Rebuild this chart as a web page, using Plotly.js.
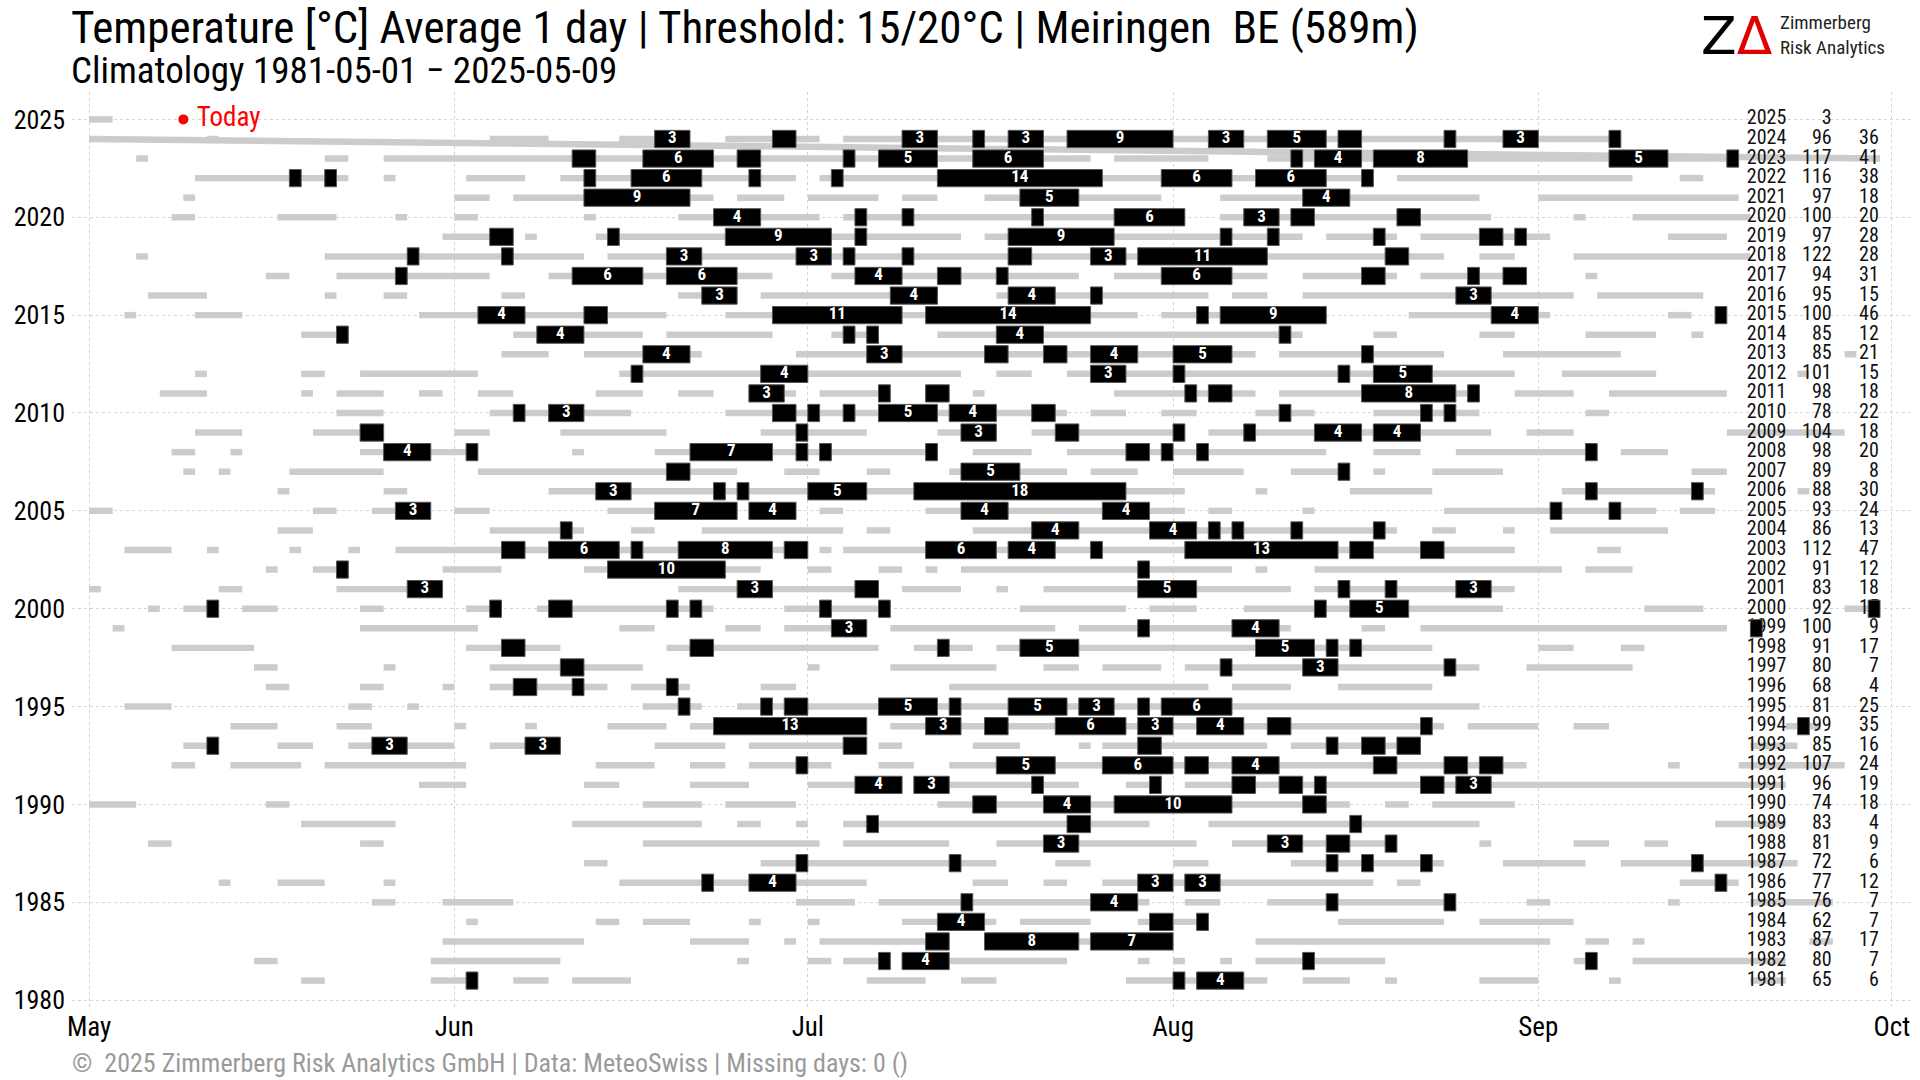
<!DOCTYPE html>
<html><head><meta charset="utf-8">
<script src="https://cdn.plot.ly/plotly-3.0.1.min.js"></script>
<style>html,body{margin:0;padding:0;background:#fff}</style>
</head><body><div id="chart" style="width:1920px;height:1080px"></div>
<script>
// ---- Data: runs are [year, first day counted from 1 May, number of days] ----
const greyRuns = [
[2025,0,2],
[2024,10,1],[2024,34,5],[2024,45,6],[2024,54,8],[2024,64,66],
[2023,4,1],[2023,20,2],[2023,25,60],[2023,87,8],[2023,100,40],
[2022,9,13],[2022,25,1],[2022,32,5],[2022,40,20],[2022,62,47],[2022,111,20],[2022,135,2],
[2021,8,1],[2021,31,3],[2021,36,17],[2021,55,4],[2021,61,6],[2021,69,3],[2021,76,15],[2021,96,22],[2021,123,17],
[2020,7,2],[2020,16,5],[2020,26,1],[2020,31,2],[2020,42,1],[2020,50,12],[2020,64,29],[2020,96,23],[2020,126,1],[2020,131,10],
[2019,30,6],[2019,37,1],[2019,43,31],[2019,76,27],[2019,105,6],[2019,113,11],[2019,134,5],
[2018,4,1],[2018,20,22],[2018,44,71],[2018,118,3],[2018,126,15],
[2017,15,2],[2017,21,13],[2017,39,19],[2017,63,21],[2017,87,13],[2017,103,8],[2017,113,9],[2017,127,1],
[2016,5,5],[2016,20,1],[2016,25,2],[2016,35,2],[2016,50,5],[2016,57,15],[2016,77,18],[2016,97,3],[2016,103,23],[2016,128,9],
[2015,3,1],[2015,9,4],[2015,28,21],[2015,54,35],[2015,91,14],[2015,112,12],[2015,134,2],[2015,138,1],
[2014,18,4],[2014,36,11],[2014,49,9],[2014,63,4],[2014,72,31],[2014,109,2],[2014,118,3],[2014,127,6],[2014,136,1],
[2013,35,4],[2013,42,10],[2013,60,39],[2013,101,14],[2013,120,10],[2013,149,1],
[2012,9,1],[2012,18,2],[2012,23,10],[2012,45,29],[2012,77,3],[2012,83,38],[2012,125,8],[2012,145,1],
[2011,6,4],[2011,18,1],[2011,21,4],[2011,28,2],[2011,33,3],[2011,43,4],[2011,50,3],[2011,56,4],[2011,62,6],[2011,71,2],[2011,75,1],[2011,87,12],[2011,101,17],[2011,121,5],[2011,129,10],
[2010,21,4],[2010,34,12],[2010,54,29],[2010,85,3],[2010,91,3],[2010,99,5],[2010,109,9],[2010,127,2],
[2009,9,4],[2009,19,6],[2009,31,3],[2009,40,9],[2009,57,9],[2009,72,5],[2009,80,13],[2009,95,24],[2009,122,4],[2009,139,10],
[2008,7,2],[2008,12,1],[2008,23,10],[2008,41,1],[2008,48,24],[2008,75,5],[2008,83,22],[2008,109,4],[2008,116,12],[2008,130,4],
[2007,8,1],[2007,11,1],[2007,17,8],[2007,33,22],[2007,59,3],[2007,66,2],[2007,73,10],[2007,85,4],[2007,92,6],[2007,102,5],[2007,109,1],[2007,114,6],[2007,136,3],
[2006,16,1],[2006,25,2],[2006,39,54],[2006,99,1],[2006,107,7],[2006,125,13],[2006,145,1],
[2005,0,2],[2005,19,2],[2005,24,5],[2005,31,3],[2005,44,11],[2005,56,4],[2005,62,2],[2005,71,22],[2005,95,2],[2005,103,1],[2005,115,18],[2005,135,3],
[2004,16,3],[2004,34,8],[2004,46,2],[2004,52,12],[2004,66,2],[2004,75,36],[2004,114,2],[2004,120,1],[2004,124,10],
[2003,3,4],[2003,10,1],[2003,17,1],[2003,22,1],[2003,26,35],[2003,62,1],[2003,64,57],[2003,128,2],
[2002,15,1],[2002,19,3],[2002,30,5],[2002,42,15],[2002,61,2],[2002,67,2],[2002,71,1],[2002,74,23],[2002,99,1],[2002,104,21],[2002,127,4],
[2001,0,1],[2001,11,2],[2001,21,9],[2001,50,17],[2001,69,5],[2001,77,1],[2001,81,21],[2001,104,17],
[2000,5,1],[2000,8,3],[2000,13,3],[2000,23,2],[2000,32,3],[2000,38,15],[2000,59,9],[2000,79,9],[2000,90,4],[2000,98,22],[2000,132,5],[2000,149,3],
[1999,2,1],[1999,23,10],[1999,45,3],[1999,54,3],[1999,59,7],[1999,68,14],[1999,84,18],[1999,108,2],[1999,113,26],[1999,141,1],
[1998,7,7],[1998,32,8],[1998,49,18],[1998,70,5],[1998,77,37],[1998,123,3],[1998,130,2],
[1997,14,2],[1997,25,1],[1997,34,13],[1997,61,1],[1997,68,9],[1997,81,3],[1997,86,5],[1997,93,25],[1997,122,9],
[1996,15,2],[1996,23,2],[1996,30,1],[1996,34,10],[1996,46,5],[1996,57,3],[1996,73,22],[1996,97,5],[1996,106,8],
[1995,3,4],[1995,22,2],[1995,27,1],[1995,47,5],[1995,55,63],
[1994,12,4],[1994,21,3],[1994,31,1],[1994,37,1],[1994,44,5],[1994,51,15],[1994,68,47],[1994,117,6],[1994,126,3],[1994,144,3],
[1993,8,3],[1993,16,3],[1993,22,9],[1993,34,6],[1993,48,6],[1993,56,10],[1993,67,2],[1993,75,4],[1993,84,1],[1993,86,14],[1993,102,11],[1993,141,4],
[1992,7,2],[1992,12,6],[1992,20,12],[1992,43,5],[1992,51,3],[1992,56,7],[1992,67,3],[1992,73,49],[1992,134,1],[1992,140,9],
[1991,28,4],[1991,42,3],[1991,51,5],[1991,61,8],[1991,70,14],[1991,88,3],[1991,93,51],
[1990,0,4],[1990,15,2],[1990,47,5],[1990,54,6],[1990,72,35],[1990,110,2],[1990,114,7],
[1989,18,8],[1989,41,11],[1989,55,2],[1989,60,1],[1989,64,26],[1989,95,23],[1989,138,6],
[1988,5,2],[1988,23,2],[1988,47,15],[1988,64,9],[1988,77,17],[1988,97,14],[1988,118,1],[1988,126,3],[1988,132,2],
[1987,42,2],[1987,57,20],[1987,82,3],[1987,92,3],[1987,102,13],[1987,120,7],[1987,130,15],
[1986,11,1],[1986,16,4],[1986,25,1],[1986,45,21],[1986,75,3],[1986,81,2],[1986,86,23],[1986,111,2],[1986,135,5],
[1985,24,2],[1985,30,6],[1985,60,5],[1985,67,23],[1985,93,3],[1985,100,16],[1985,122,2],[1985,134,1],[1985,141,7],
[1984,32,1],[1984,43,2],[1984,47,4],[1984,56,1],[1984,61,1],[1984,69,8],[1984,79,6],[1984,89,6],[1984,106,9],[1984,118,8],
[1983,30,12],[1983,51,5],[1983,59,1],[1983,62,11],[1983,76,16],[1983,99,25],[1983,127,2],[1983,131,1],[1983,146,2],
[1982,14,2],[1982,29,11],[1982,55,1],[1982,61,2],[1982,64,4],[1982,69,14],[1982,89,1],[1982,92,1],[1982,96,1],[1982,99,11],[1982,126,2],[1982,131,13],
[1981,18,2],[1981,29,4],[1981,36,3],[1981,41,5],[1981,66,5],[1981,74,3],[1981,88,12],[1981,103,4],[1981,110,1],[1981,118,5],[1981,129,1],[1981,141,3]
];
const hotRuns = [
[2024,48,3],[2024,58,2],[2024,69,3],[2024,75,1],[2024,78,3],[2024,83,9],[2024,95,3],[2024,100,5],[2024,106,2],[2024,115,1],[2024,120,3],[2024,129,1],
[2023,41,2],[2023,47,6],[2023,55,2],[2023,64,1],[2023,67,5],[2023,75,6],[2023,102,1],[2023,104,4],[2023,109,8],[2023,129,5],[2023,139,1],
[2022,17,1],[2022,20,1],[2022,42,1],[2022,46,6],[2022,56,1],[2022,63,1],[2022,72,14],[2022,91,6],[2022,99,6],[2022,108,1],
[2021,42,9],[2021,79,5],[2021,103,4],
[2020,53,4],[2020,65,1],[2020,69,1],[2020,80,1],[2020,87,6],[2020,98,3],[2020,102,2],[2020,111,2],
[2019,34,2],[2019,44,1],[2019,54,9],[2019,65,1],[2019,78,9],[2019,96,1],[2019,100,1],[2019,109,1],[2019,118,2],[2019,121,1],
[2018,27,1],[2018,35,1],[2018,49,3],[2018,60,3],[2018,64,1],[2018,69,1],[2018,78,2],[2018,85,3],[2018,89,11],[2018,110,2],
[2017,26,1],[2017,41,6],[2017,49,6],[2017,65,4],[2017,72,2],[2017,77,1],[2017,91,6],[2017,108,2],[2017,117,1],[2017,120,2],
[2016,52,3],[2016,68,4],[2016,78,4],[2016,85,1],[2016,116,3],
[2015,33,4],[2015,42,2],[2015,58,11],[2015,71,14],[2015,94,1],[2015,96,9],[2015,119,4],[2015,138,1],
[2014,21,1],[2014,38,4],[2014,64,1],[2014,66,1],[2014,77,4],[2014,101,1],
[2013,47,4],[2013,66,3],[2013,76,2],[2013,81,2],[2013,85,4],[2013,92,5],[2013,108,1],
[2012,46,1],[2012,57,4],[2012,85,3],[2012,92,1],[2012,106,1],[2012,109,5],
[2011,56,3],[2011,67,1],[2011,71,2],[2011,93,1],[2011,95,2],[2011,108,8],[2011,117,1],
[2010,36,1],[2010,39,3],[2010,58,2],[2010,61,1],[2010,64,1],[2010,67,5],[2010,73,4],[2010,80,2],[2010,101,1],[2010,113,1],[2010,115,1],
[2009,23,2],[2009,60,1],[2009,74,3],[2009,82,2],[2009,92,1],[2009,98,1],[2009,104,4],[2009,109,4],
[2008,25,4],[2008,32,1],[2008,51,7],[2008,60,1],[2008,62,1],[2008,71,1],[2008,88,2],[2008,91,1],[2008,94,1],[2008,127,1],
[2007,49,2],[2007,74,5],[2007,106,1],
[2006,43,3],[2006,53,1],[2006,55,1],[2006,61,5],[2006,70,18],[2006,127,1],[2006,136,1],
[2005,26,3],[2005,48,7],[2005,56,4],[2005,74,4],[2005,86,4],[2005,124,1],[2005,129,1],
[2004,40,1],[2004,80,4],[2004,90,4],[2004,95,1],[2004,97,1],[2004,102,1],[2004,109,1],
[2003,35,2],[2003,39,6],[2003,46,1],[2003,50,8],[2003,59,2],[2003,71,6],[2003,78,4],[2003,85,1],[2003,93,13],[2003,107,2],[2003,113,2],
[2002,21,1],[2002,44,10],[2002,89,1],
[2001,27,3],[2001,55,3],[2001,65,2],[2001,89,5],[2001,106,1],[2001,110,1],[2001,116,3],
[2000,10,1],[2000,34,1],[2000,39,2],[2000,49,1],[2000,51,1],[2000,62,1],[2000,67,1],[2000,104,1],[2000,107,5],[2000,151,1],
[1999,63,3],[1999,89,1],[1999,97,4],[1999,141,1],
[1998,35,2],[1998,51,2],[1998,72,1],[1998,79,5],[1998,99,5],[1998,105,1],[1998,107,1],
[1997,40,2],[1997,96,1],[1997,103,3],[1997,115,1],
[1996,36,2],[1996,41,1],[1996,49,1],
[1995,50,1],[1995,57,1],[1995,59,2],[1995,67,5],[1995,73,1],[1995,78,5],[1995,84,3],[1995,89,1],[1995,91,6],
[1994,53,13],[1994,71,3],[1994,76,2],[1994,82,6],[1994,89,3],[1994,94,4],[1994,100,2],[1994,113,1],[1994,145,1],
[1993,10,1],[1993,24,3],[1993,37,3],[1993,64,2],[1993,89,2],[1993,105,1],[1993,108,2],[1993,111,2],
[1992,60,1],[1992,77,5],[1992,86,6],[1992,93,2],[1992,97,4],[1992,109,2],[1992,115,2],[1992,118,2],
[1991,65,4],[1991,70,3],[1991,80,1],[1991,90,1],[1991,97,2],[1991,101,2],[1991,104,1],[1991,113,2],[1991,116,3],
[1990,75,2],[1990,81,4],[1990,87,10],[1990,103,2],
[1989,66,1],[1989,83,2],[1989,107,1],
[1988,81,3],[1988,100,3],[1988,105,2],[1988,110,1],
[1987,60,1],[1987,73,1],[1987,105,1],[1987,108,1],[1987,113,1],[1987,136,1],
[1986,52,1],[1986,56,4],[1986,89,3],[1986,93,3],[1986,138,1],
[1985,74,1],[1985,85,4],[1985,105,1],[1985,115,1],
[1984,72,4],[1984,90,2],[1984,94,1],
[1983,71,2],[1983,76,8],[1983,85,7],
[1982,67,1],[1982,69,4],[1982,103,1],[1982,127,1],
[1981,32,1],[1981,92,1],[1981,94,4]
];
const tableYears = [2025,2024,2023,2022,2021,2020,2019,2018,2017,2016,2015,2014,2013,2012,2011,2010,2009,2008,2007,2006,2005,2004,2003,2002,2001,2000,1999,1998,1997,1996,1995,1994,1993,1992,1991,1990,1989,1988,1987,1986,1985,1984,1983,1982,1981];
const tableDays15 = [3,96,117,116,97,100,97,122,94,95,100,85,85,101,98,78,104,98,89,88,93,86,112,91,83,92,100,91,80,68,81,99,85,107,96,74,83,81,72,77,76,62,87,80,65];
const tableDays20 = [null,36,41,38,18,20,28,28,31,15,46,12,21,15,18,22,18,20,8,30,24,13,47,12,18,15,9,17,7,4,25,35,16,24,19,18,4,9,6,12,7,7,17,7,6];
const todayDay = 8;          // 2025-05-09
const todayYear = 2025;
const stripeDays = [0, 152]; // stray grey stroke in the original figure
const stripeYears = [2024, 2023];
const monthTickText = ['May','Jun','Jul','Aug','Sep','Oct'];
const monthTickDays = [0,31,61,92,123,153];
const yearTicks = [1980,1985,1990,1995,2000,2005,2010,2015,2020,2025];

// ---- helpers ----
const REF = Date.UTC(2001,4,1);
const DAY = 86400000;
function dayToDate(d){ return new Date(REF + d*DAY).toISOString().slice(0,19).replace('T',' '); }
const FONT = "Roboto Condensed, Liberation Sans Narrow, DejaVu Sans Condensed, Roboto, sans-serif";
const L=72, R=7, T=92, B=72, W=1920, H=1080;
const pw=W-L-R, ph=H-T-B;
const px2x = px => (px-L)/pw;
const py2y = py => (H-B-py)/ph;
const XR = [dayToDate(-1.45), dayToDate(154.8)];
const YR = [1979.6, 2026.4];

const traces = [];
// main subplot: grey runs (bars layer), then stray stroke and table text (scatter layer)
traces.push({type:'bar', orientation:'h', y: greyRuns.map(r=>r[0]), base: greyRuns.map(r=>dayToDate(r[1])),
  x: greyRuns.map(r=>r[2]*DAY), width:0.33, marker:{color:'#cccccc', line:{width:0}}, hoverinfo:'skip'});
traces.push({type:'scatter', mode:'lines', x: stripeDays.map(dayToDate), y: stripeYears,
  line:{color:'#cccccc', width:6.5}, hoverinfo:'skip'});
traces.push({type:'scatter', mode:'text', x: tableYears.map(()=>dayToDate(140.7)), y: tableYears,
  text: tableYears.map(String), textposition:'middle right', textfont:{family:FONT,size:20,color:'#111'}, hoverinfo:'skip'});
traces.push({type:'scatter', mode:'text', x: tableYears.map(()=>dayToDate(147.9)), y: tableYears,
  text: tableDays15.map(v=>v==null?'':String(v)), textposition:'middle left', textfont:{family:FONT,size:20,color:'#111'}, hoverinfo:'skip'});
traces.push({type:'scatter', mode:'text', x: tableYears.map(()=>dayToDate(151.9)), y: tableYears,
  text: tableDays20.map(v=>v==null?'':String(v)), textposition:'middle left', textfont:{family:FONT,size:20,color:'#111'}, hoverinfo:'skip'});

// overlay subplot: hot runs on top
traces.push({type:'bar', orientation:'h', xaxis:'x2', yaxis:'y2', y: hotRuns.map(r=>r[0]), base: hotRuns.map(r=>dayToDate(r[1])),
  x: hotRuns.map(r=>r[2]*DAY), width:0.88, marker:{color:'#000000', line:{width:1,color:'#555555'}}, hoverinfo:'skip'});
const lab = hotRuns.filter(r=>r[2]>=3);
traces.push({type:'scatter', mode:'text', xaxis:'x2', yaxis:'y2', x: lab.map(r=>dayToDate(r[1]+r[2]/2)), y: lab.map(r=>r[0]),
  text: lab.map(r=>String(r[2])), textposition:'middle center', textfont:{family:FONT,size:17,color:'#ffffff',weight:'bold'}, hoverinfo:'skip'});
traces.push({type:'scatter', mode:'markers+text', xaxis:'x2', yaxis:'y2', x:[dayToDate(todayDay)], y:[todayYear], text:['\u00a0Today'],
  textposition:'middle right', marker:{color:'#ff0000', size:10}, textfont:{family:FONT,size:27,color:'#ff0000'}, hoverinfo:'skip'});

const annotations = [
 {text:'Temperature [°C] Average 1 day | Threshold: 15/20°C | Meiringen\u00a0 BE (589m)', xref:'paper', yref:'paper',
  x:px2x(69), y:py2y(27), xanchor:'left', yanchor:'middle', showarrow:false, font:{family:FONT,size:45,color:'#000'}},
 {text:'Climatology 1981-05-01 \u2212 2025-05-09', xref:'paper', yref:'paper',
  x:px2x(69), y:py2y(70), xanchor:'left', yanchor:'middle', showarrow:false, font:{family:FONT,size:37,color:'#000'}},
 {text:'©\u00a0 2025 Zimmerberg Risk Analytics GmbH | Data: MeteoSwiss | Missing days: 0 ()', xref:'paper', yref:'paper',
  x:px2x(70), y:py2y(1063), xanchor:'left', yanchor:'middle', showarrow:false, font:{family:FONT,size:26,color:'#9a9a9a'}},
 {text:'Z<span style="color:#e00000">Δ</span>', xref:'paper', yref:'paper',
  x:px2x(1699), y:py2y(36), xanchor:'left', yanchor:'middle', showarrow:false, font:{family:'DejaVu Sans, sans-serif',size:52,color:'#000'}},
 {text:'Zimmerberg<br>Risk Analytics', xref:'paper', yref:'paper', align:'left',
  x:px2x(1778), y:py2y(35), xanchor:'left', yanchor:'middle', showarrow:false, font:{family:FONT,size:19,color:'#222'}}
];

const layout = {
  width:W, height:H, margin:{l:L,r:R,t:T,b:B}, paper_bgcolor:'#fff', plot_bgcolor:'#fff',
  showlegend:false, barmode:'overlay', hovermode:false,
  font:{family:FONT, color:'#000'},
  xaxis:{type:'date', range:XR, tickvals: monthTickDays.map(dayToDate), ticktext: monthTickText,
    showgrid:true, gridcolor:'#d4d4d4', griddash:'dot', gridwidth:1, zeroline:false, showline:false, ticks:'',
    tickfont:{family:FONT,size:27,color:'#000'}},
  yaxis:{range:YR, tickvals:yearTicks, ticklabelstandoff:6,
    showgrid:true, gridcolor:'#d4d4d4', griddash:'dot', gridwidth:1, zeroline:false, showline:false, ticks:'',
    tickfont:{family:FONT,size:26,color:'#000'}},
  xaxis2:{type:'date', range:XR, overlaying:'x', visible:false, showgrid:false, zeroline:false},
  yaxis2:{range:YR, overlaying:'y', visible:false, showgrid:false, zeroline:false},
  annotations: annotations
};
Plotly.newPlot('chart', traces, layout, {displayModeBar:false, staticPlot:true});
</script>
</body></html>
